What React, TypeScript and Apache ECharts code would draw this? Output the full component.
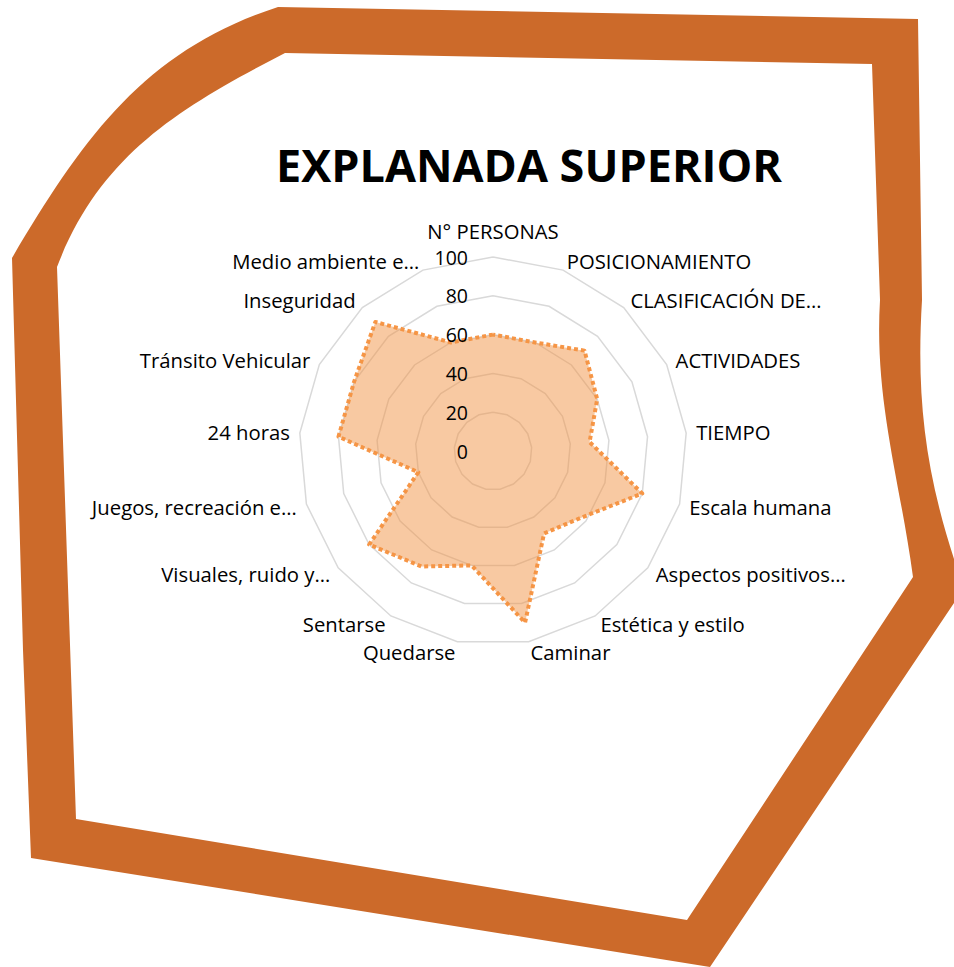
import React, { useEffect, useRef } from "react";
import * as echarts from "echarts";

const indicatorNames = [
  "N° PERSONAS",
  "POSICIONAMIENTO",
  "CLASIFICACIÓN DE…",
  "ACTIVIDADES",
  "TIEMPO",
  "Escala humana",
  "Aspectos positivos…",
  "Estética y estilo",
  "Caminar",
  "Quedarse",
  "Sentarse",
  "Visuales, ruido y…",
  "Juegos, recreación e…",
  "24 horas",
  "Tránsito Vehicular",
  "Inseguridad",
  "Medio ambiente e…",
];

const seriesValues = [60, 60, 70, 60, 50, 80, 57, 50, 90, 60, 70, 80, 40, 80, 80, 90, 60];

const tickLabels = [0, 20, 40, 60, 80, 100];

const titleText = "EXPLANADA SUPERIOR";

const borderPath =
  "M278 7 L918 19 L922 300 C916 400 925 480 964 588 L710 967 L31 858 L23 650 L12 258 C83 138 145 50 278 7 Z " +
  "M285 53 C179 108 100 155 57 267 L76 819 L687 920 L913 577 C900 480 874 400 880 300 L872 64 Z";

let registered = false;
function ensureShape() {
  if (registered) return;
  echarts.graphic.registerShape("frameBorder", echarts.graphic.extendPath(borderPath, {}) as any);
  registered = true;
}

export default function App() {
  const ref = useRef<HTMLDivElement>(null);

  useEffect(() => {
    if (!ref.current) return;
    ensureShape();
    const chart = echarts.init(ref.current, undefined, { renderer: "svg" });

    // ECharts radar places indicators counter-clockwise; reverse (keeping the first) for clockwise order
    const order = [0, ...indicatorNames.slice(1).map((_, i) => indicatorNames.length - 1 - i)];
    const minVal = tickLabels[0];
    const maxVal = tickLabels[tickLabels.length - 1];
    const indicators = order.map((idx) => ({ name: indicatorNames[idx], min: minVal, max: maxVal }));
    const labelIndicators = order.map((idx, k) => {
      const base: any = { name: indicatorNames[idx], min: minVal, max: maxVal };
      if (k === 0) {
        base.axisLabel = {
          show: true,
          margin: 25,
          fontSize: 19.5,
          color: "#000000",
          fontFamily: "Open Sans",
          showMinLabel: true,
          showMaxLabel: true,
        };
      }
      return base;
    });
    const data = order.map((idx) => seriesValues[idx]);
    const firstName = indicatorNames[0];

    chart.setOption({
      animation: false,
      backgroundColor: "#ffffff",
      title: {
        text: titleText,
        left: 524,
        top: 137,
        textAlign: "center",
        textStyle: {
          fontFamily: "Open Sans",
          fontWeight: "bold",
          fontSize: 45,
          color: "#000000",
        },
      },
      graphic: [
        {
          type: "frameBorder",
          x: 0,
          y: 0,
          z: 100,
          silent: true,
          style: { fill: "#CC6A2A" },
        },
      ],
      radar: [
        {
          center: [493, 451],
          radius: 194,
          startAngle: 90,
          splitNumber: 5,
          shape: "polygon",
          nameGap: 10,
          axisName: {
            color: "#000000",
            fontSize: 20.3,
            fontFamily: "Open Sans",
            formatter: (name: string) => (name === firstName ? `{top|${name}}` : name),
            rich: {
              top: {
                fontSize: 20.3,
                fontFamily: "Open Sans",
                color: "#000000",
                padding: [0, 0, 6, 0],
              },
            },
          },
          axisLine: { show: false },
          axisTick: { show: false },
          axisLabel: { show: false },
          splitArea: { show: false },
          splitLine: { lineStyle: { color: "#d9d9d9", width: 1.5 } },
          indicator: indicators,
        },
        {
          z: 5,
          center: [493, 451],
          radius: 194,
          startAngle: 90,
          splitNumber: 5,
          shape: "polygon",
          axisName: { show: false },
          axisLine: { show: false },
          axisTick: { show: false },
          axisLabel: { show: false },
          splitArea: { show: false },
          splitLine: { show: false },
          indicator: labelIndicators,
        },
      ],
      series: [
        {
          type: "radar",
          radarIndex: 0,
          symbol: "none",
          data: [
            {
              value: data,
              name: titleText,
              lineStyle: { color: "#F79646", width: 4, type: [4, 3], cap: "butt" },
              areaStyle: { color: "#F29445", opacity: 0.5 },
            },
          ],
        },
      ],
    });

    return () => {
      chart.dispose();
    };
  }, []);

  return (
    <div
      ref={ref}
      style={{ position: "absolute", left: 0, top: 0, width: 954, height: 967 }}
    />
  );
}
